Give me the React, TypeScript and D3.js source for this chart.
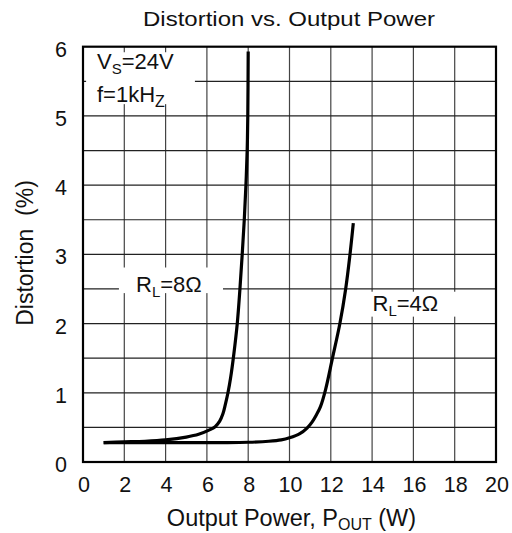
import React from "react";
import * as d3 from "d3";

// ---- data ----
const xTicks = [0, 2, 4, 6, 8, 10, 12, 14, 16, 18, 20];
const yTicks = [0, 1, 2, 3, 4, 5, 6];
const yGrid = [0.5, 1, 1.5, 2, 2.5, 3, 3.5, 4, 4.5, 5, 5.5];

const rl8X = [1, 2, 3, 4, 5, 5.6, 6.1, 6.4, 6.62, 6.78, 6.9, 7.02, 7.15, 7.3, 7.47, 7.6, 7.71, 7.81, 7.89, 7.95, 7.98, 8.0];
const rl8Y = [0.28, 0.29, 0.3, 0.32, 0.36, 0.4, 0.46, 0.51, 0.59, 0.7, 0.84, 1.0, 1.22, 1.55, 2.0, 2.5, 3.0, 3.5, 4.0, 4.5, 5.0, 5.93];

const rl4X = [1, 3, 5, 7, 8, 9, 9.6, 10.0, 10.5, 10.85, 11.1, 11.3, 11.5, 11.75, 12.08, 12.44, 12.72, 12.93, 13.09];
const rl4Y = [0.28, 0.28, 0.28, 0.28, 0.285, 0.3, 0.32, 0.35, 0.41, 0.49, 0.58, 0.68, 0.8, 1.05, 1.5, 2.0, 2.5, 3.0, 3.45];

const FONT = "'Liberation Sans', Arial, Helvetica, sans-serif";

export default function App() {
  const W = 512;
  const H = 533;
  const x = d3.scaleLinear().domain([0, 20]).range([83, 496]);
  const y = d3.scaleLinear().domain([0, 6]).range([462, 46.7]);

  const line = d3
    .line<[number, number]>()
    .x((d) => x(d[0]))
    .y((d) => y(d[1]))
    .curve(d3.curveCatmullRom.alpha(0.5));

  const pts8 = rl8X.map((v, i) => [v, rl8Y[i]] as [number, number]);
  const pts4 = rl4X.map((v, i) => [v, rl4Y[i]] as [number, number]);

  const box = (x0: number, x1: number, y0: number, y1: number) => (
    <rect x={x(x0)} y={y(y0)} width={x(x1) - x(x0)} height={y(y1) - y(y0)} fill="#fff" />
  );

  return (
    <svg
      width={W}
      height={H}
      style={{ position: "absolute", left: 0, top: 0, background: "#fff" }}
      fontFamily={FONT}
    >
      <rect x={0} y={0} width={W} height={H} fill="#fff" />
      {/* grid */}
      {xTicks.slice(1, -1).map((t) => (
        <line key={"vx" + t} x1={x(t)} x2={x(t)} y1={y(0)} y2={y(6)} stroke="#444" strokeWidth={1.2} />
      ))}
      {yGrid.map((t) => (
        <line key={"hy" + t} x1={x(0)} x2={x(20)} y1={y(t)} y2={y(t)} stroke="#222" strokeWidth={1.2} />
      ))}
      {/* label masks */}
      {box(0.15, 5.42, 5.92, 5.17)}
      {box(1.74, 6.78, 2.81, 2.44)}
      {box(13.9, 18.2, 2.46, 2.1)}
      {/* frame */}
      <rect x={x(0)} y={y(6)} width={x(20) - x(0)} height={y(0) - y(6)} fill="none" stroke="#000" strokeWidth={2.2} />
      {/* curves */}
      <path d={line(pts4) || ""} fill="none" stroke="#000" strokeWidth={3.2} strokeLinecap="butt" />
      <path d={line(pts8) || ""} fill="none" stroke="#000" strokeWidth={3.2} strokeLinecap="butt" />
      {/* y tick labels */}
      {yTicks.map((t) => (
        <text key={"yt" + t} x={67} y={y(t) + 10} textAnchor="end" fontSize={21.5} fill="#111">
          {t}
        </text>
      ))}
      {/* x tick labels */}
      {xTicks.map((t) => (
        <text key={"xt" + t} x={x(t) + 1} y={492} textAnchor="middle" fontSize={21.5} fill="#111">
          {t}
        </text>
      ))}
      {/* title */}
      <text x={289} y={26} textAnchor="middle" fontSize={21} fill="#111" textLength={292} lengthAdjust="spacingAndGlyphs">
        Distortion vs. Output Power
      </text>
      {/* x title */}
      <text x={291.5} y={526} textAnchor="middle" fontSize={23.5} fill="#111">
        Output Power, P
        <tspan fontSize={16} dy={4}>OUT</tspan>
        <tspan dy={-4}> (W)</tspan>
      </text>
      {/* y title */}
      <text
        transform="translate(33,253) rotate(-90)"
        textAnchor="middle"
        fontSize={23}
        fill="#111"
        style={{ whiteSpace: "pre" }}
      >
        {"Distortion  (%)"}
      </text>
      {/* annotations */}
      <text x={97} y={68.5} fontSize={22} fill="#111">
        V<tspan fontSize={15} dy={5}>S</tspan>
        <tspan dy={-5}>=24V</tspan>
      </text>
      <text x={97} y={102} fontSize={22} fill="#111">
        f=1kH<tspan fontSize={16} dy={5}>Z</tspan>
      </text>
      <text x={136} y={292} fontSize={22} fill="#111">
        R<tspan fontSize={15} dy={5}>L</tspan>
        <tspan dy={-5}>=8Ω</tspan>
      </text>
      <text x={372.5} y={310.5} fontSize={22} fill="#111">
        R<tspan fontSize={15} dy={5}>L</tspan>
        <tspan dy={-5}>=4Ω</tspan>
      </text>
    </svg>
  );
}
